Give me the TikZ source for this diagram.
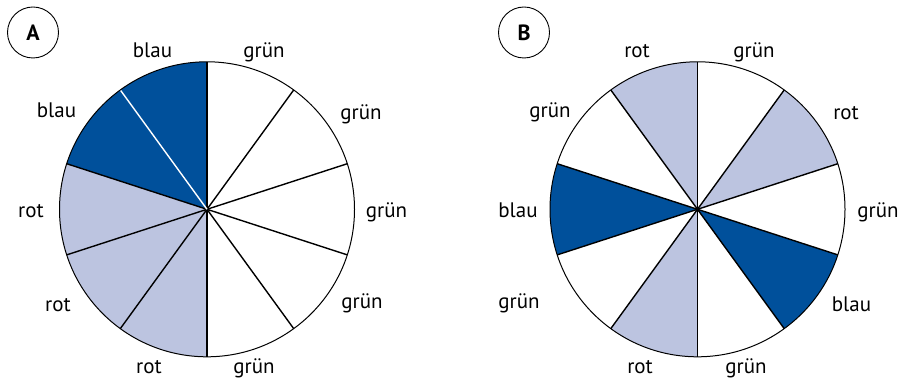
\documentclass[tikz,border=0pt]{standalone}
\usepackage{fontspec}
\setmainfont{PT Sans}
\definecolor{blaufarbe}{RGB}{0,80,155}
\definecolor{rotfarbe}{RGB}{188,196,224}
\begin{document}
\begin{tikzpicture}[x=1pt,y=1pt,
  lbl/.style={font=\fontsize{21}{24}\selectfont, anchor=base, inner sep=0pt},
  tag/.style={draw, circle, line width=0.9pt, minimum size=51pt, inner sep=0pt,
              font=\bfseries\fontsize{22}{24}\selectfont},
  rim/.style={line width=1pt},
  spoke/.style={line width=1.4pt}]
\useasboundingbox (0,0) rectangle (899,380);

% centres of the two discs
\coordinate (cA) at (207,170.7);
\coordinate (cB) at (697.5,170.7);
\def\rad{147.5pt}

% disc A: sectors counted anticlockwise from the top
\foreach \c [count=\i from 0] in {blaufarbe,blaufarbe,rotfarbe,rotfarbe,rotfarbe,white,white,white,white,white}
  \fill[\c] (cA) -- ++({90+36*\i}:\rad) arc[start angle={90+36*\i}, delta angle=36, radius=\rad] -- cycle;
\foreach \a in {90,162,198,234,270,306,342,378,414}
  \draw[spoke] (cA) -- ++(\a:\rad);
\draw[spoke, white] (cA) -- ++(126:\rad);
\draw[rim] (cA) circle[radius=\rad];

% disc B
\foreach \c [count=\i from 0] in {rotfarbe,white,blaufarbe,white,rotfarbe,white,blaufarbe,white,rotfarbe,white}
  \fill[\c] (cB) -- ++({90+36*\i}:\rad) arc[start angle={90+36*\i}, delta angle=36, radius=\rad] -- cycle;
\foreach \a in {90,126,162,198,234,270,306,342,378,414}
  \draw[spoke] (cB) -- ++(\a:\rad);
\draw[rim] (cB) circle[radius=\rad];

% tags
\node[tag] (tagA) at (33,347.5) {A};
\node[tag] (tagB) at (524,347.5) {B};

% labels of disc A
\node[lbl] (a1) at (152.5,322) {blau};
\node[lbl] (a2) at (264,322) {grün};
\node[lbl] (a3) at (56.5,262) {blau};
\node[lbl] (a4) at (361,260) {grün};
\node[lbl] (a5) at (31,162) {rot};
\node[lbl] (a6) at (386.5,162) {grün};
\node[lbl] (a7) at (58,68.3) {rot};
\node[lbl] (a8) at (362,71) {grün};
\node[lbl] (a9) at (149,7) {rot};
\node[lbl] (a10) at (254,7) {grün};

% labels of disc B
\node[lbl] (b1) at (637,322) {rot};
\node[lbl] (b2) at (754,322) {grün};
\node[lbl] (b3) at (550,262) {grün};
\node[lbl] (b4) at (846,260) {rot};
\node[lbl] (b5) at (518,162) {blau};
\node[lbl] (b6) at (878,162) {grün};
\node[lbl] (b7) at (519,71) {grün};
\node[lbl] (b8) at (851.5,68.3) {blau};
\node[lbl] (b9) at (640,7) {rot};
\node[lbl] (b10) at (746,7) {grün};
\end{tikzpicture}
\end{document}
